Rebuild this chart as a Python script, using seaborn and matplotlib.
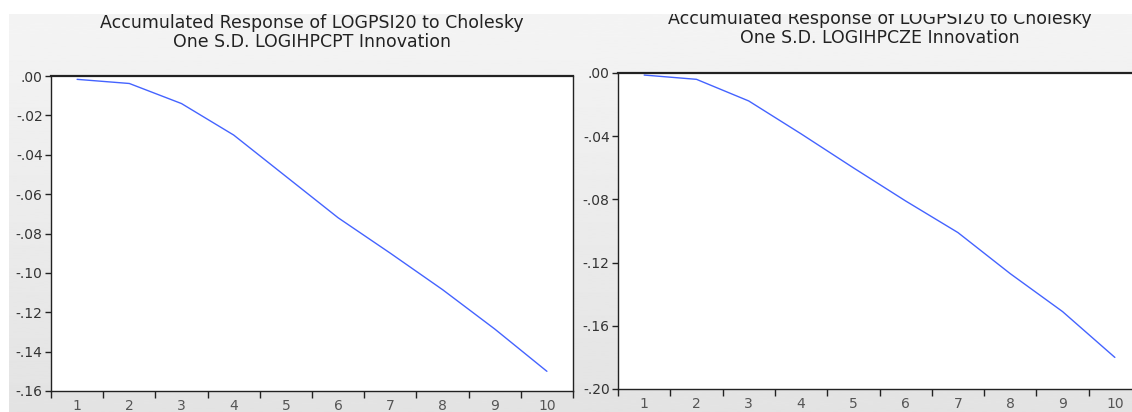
import numpy as np
import pandas as pd
import matplotlib
matplotlib.use("Agg")
import matplotlib.pyplot as plt
from matplotlib.patches import Rectangle
from matplotlib.ticker import FixedLocator, FuncFormatter, NullFormatter
import seaborn as sns

# Accumulated impulse responses over a 10-period horizon
periods = list(range(1, 11))
resp_pt = [-0.0017, -0.0038, -0.0140, -0.0300, -0.0510, -0.0720, -0.0900, -0.1085, -0.1285, -0.1500]
resp_cze = [-0.0013, -0.0040, -0.0177, -0.0385, -0.0600, -0.0810, -0.1010, -0.1270, -0.1510, -0.1800]

titles = [
    "Accumulated Response of LOGPSI20 to Cholesky\nOne S.D. LOGIHPCPT Innovation",
    "Accumulated Response of LOGPSI20 to Cholesky\nOne S.D. LOGIHPCZE Innovation",
]
ytick_pt = [0.00, -0.02, -0.04, -0.06, -0.08, -0.10, -0.12, -0.14, -0.16]
ytick_cze = [0.00, -0.04, -0.08, -0.12, -0.16, -0.20]

sns.set_style("white")
plt.rcParams["font.family"] = ["DejaVu Sans"]

W, H = 1132, 412
fig = plt.figure(figsize=(W / 100, H / 100), dpi=100)
fig.patch.set_facecolor("white")

# soft grey backdrop fading downwards
bg = fig.add_axes([9 / W, 0, 1 - 9 / W, (H - 14) / H], zorder=-5)
grad = np.linspace(0.957, 0.89, 256).reshape(-1, 1)
bg.imshow(grad, aspect="auto", cmap="gray", vmin=0, vmax=1, extent=[0, 1, 0, 1], origin="upper")
bg.set_axis_off()

def fmt(v, pos):
    s = f"{v:.2f}"
    return s.replace("0.", ".", 1)

line_color = "#4463ff"
spine_color = "#222222"

def panel(rect, vals, yticks, ylim, title, title_top, title_x):
    ax = fig.add_axes(rect)
    df = pd.DataFrame({"period": periods, "response": vals})
    sns.lineplot(data=df, x="period", y="response", ax=ax, color=line_color, lw=1.0)
    ax.set_facecolor("white")
    ax.set_xlim(0.5, 10.5)
    ax.set_ylim(*ylim)
    ax.set_xlabel("")
    ax.set_ylabel("")
    # tick marks at the period boundaries, labels at period centres
    ax.xaxis.set_major_locator(FixedLocator(np.arange(0.5, 11.0, 1.0)))
    ax.xaxis.set_major_formatter(NullFormatter())
    ax.xaxis.set_minor_locator(FixedLocator(periods))
    ax.xaxis.set_minor_formatter(FuncFormatter(lambda v, p: f"{int(round(v))}"))
    ax.tick_params(axis="x", which="major", direction="out", length=5, width=1, color=spine_color, bottom=True)
    ax.tick_params(axis="x", which="minor", length=0, pad=6, labelsize=10, labelcolor="#555555", bottom=True)
    ax.yaxis.set_major_locator(FixedLocator(yticks))
    ax.yaxis.set_major_formatter(FuncFormatter(fmt))
    ax.tick_params(axis="y", direction="out", length=4, width=1, color=spine_color, pad=2,
                   labelsize=10, labelcolor="#333333", left=True)
    for side in ["left", "bottom", "right"]:
        ax.spines[side].set_color(spine_color)
        ax.spines[side].set_linewidth(1.0)
    ax.spines["top"].set_color(spine_color)
    ax.spines["top"].set_linewidth(1.6)
    fig.text(title_x / W, 1 - title_top / H, title, ha="center", va="top",
             fontsize=12.5, color="#222222", linespacing=1.08)
    return ax

ax1 = panel([51 / W, 21 / H, 522 / W, 315 / H], resp_pt, ytick_pt, (-0.16, 0.0), titles[0], 14, 312)
ax2 = panel([618 / W, 23 / H, 523 / W, 316 / H], resp_cze, ytick_cze, (-0.20, 0.0), titles[1], 10, 879.5)
ax2.spines["right"].set_visible(False)

# white strips along the top and left edges
fig.add_artist(Rectangle((0, 1 - 14 / H), 1, 14 / H, transform=fig.transFigure,
                         facecolor="white", edgecolor="none", zorder=20))
fig.add_artist(Rectangle((0, 0), 9 / W, 1, transform=fig.transFigure,
                         facecolor="white", edgecolor="none", zorder=20))

fig.savefig("out.png", dpi=100)
